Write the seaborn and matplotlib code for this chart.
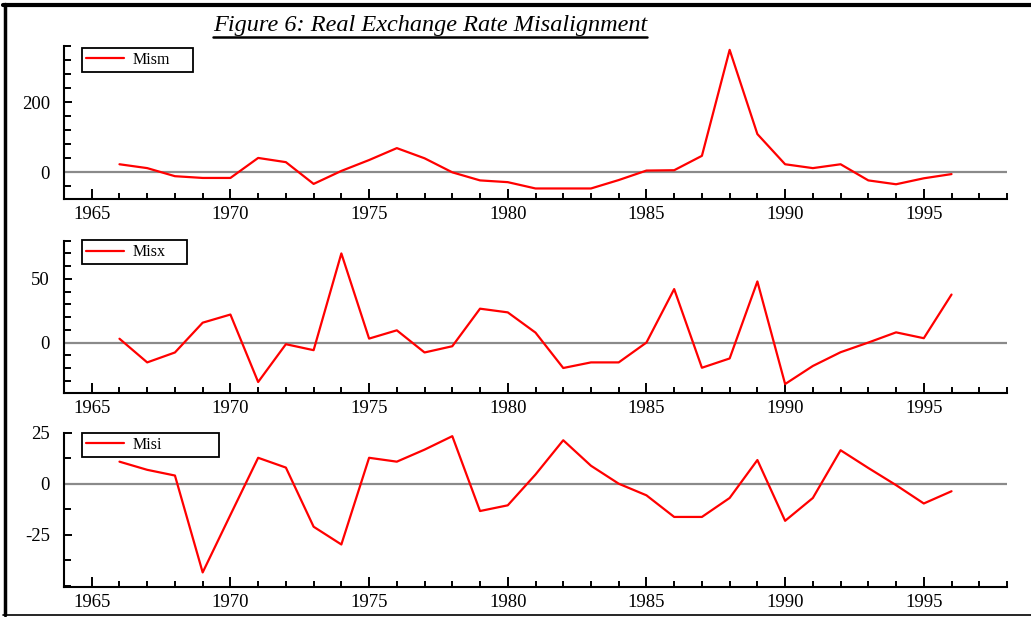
import numpy as np
import pandas as pd
import matplotlib
matplotlib.use("Agg")
import matplotlib.pyplot as plt
from matplotlib.lines import Line2D
from matplotlib.ticker import MultipleLocator, FixedLocator
import seaborn as sns

# Annual misalignment series, 1966-1996
years = list(range(1966, 1997))

mism = [23, 12, -11, -16, -16, 41, 29, -33, 4, 35, 69, 40, 0, -23, -28,
        -46, -46, -46, -22, 5, 6, 47, 349, 109, 23, 12, 23, -23, -34, -17, -5]

misx = [3, -15.6, -7.8, 15.6, 22, -31, -1.3, -6, 70, 3.1, 9.6, -7.8, -2.9,
        26.6, 23.7, 7.8, -20, -15.6, -15.6, 0, 42, -19.8, -12.5, 48, -32.6,
        -18.4, -7.6, 0, 8, 3.4, 37.7]

misi = [10.8, 6.8, 4, -43.5, -15.3, 12.7, 7.9, -21.1, -29.8, 12.7, 10.8,
        16.7, 23.3, -13.4, -10.6, 4.5, 21.3, 8.8, 0, -5.7, -16.3, -16.3, -7,
        11.6, -18.2, -7, 16.4, 7.7, -0.7, -9.7, -3.7]

series_names = ["Mism", "Misx", "Misi"]
year_ticks = [1965, 1970, 1975, 1980, 1985, 1990, 1995]

df = pd.DataFrame({"year": years, "Mism": mism, "Misx": misx, "Misi": misi})

sns.set_theme(style="ticks")
plt.rcParams["font.family"] = ["Liberation Serif", "DejaVu Serif"]
plt.rcParams["axes.unicode_minus"] = False
plt.rcParams["text.color"] = "black"
plt.rcParams["xtick.labelcolor"] = "black"
plt.rcParams["ytick.labelcolor"] = "black"

W, H = 1031, 617
fig = plt.figure(figsize=(W / 100, H / 100), dpi=100)


def px_axes(left, top, right, bottom):
    return fig.add_axes([left / W, 1 - bottom / H, (right - left) / W, (bottom - top) / H])


panels = [
    dict(name="Mism", box=(64, 46, 1007, 199), ylim=(-76, 360), major=[0, 200],
         minor=40, leg=(0.019, 0.83, 0.118, 0.145)),
    dict(name="Misx", box=(64, 240.7, 1007, 392.7), ylim=(-39.4, 80), major=[0, 50],
         minor=10, leg=(0.019, 0.845, 0.111, 0.145)),
    dict(name="Misi", box=(64, 432.7, 1007, 586.7), ylim=(-50.5, 25), major=[-25, 0, 25],
         minor=12.5, leg=(0.019, 0.842, 0.145, 0.156)),
]

for p in panels:
    ax = px_axes(*p["box"])
    ax.axhline(0, color="#8a8a8a", lw=1.6, zorder=1)
    sns.lineplot(data=df, x="year", y=p["name"], ax=ax, color="#ff0000",
                 lw=1.6, label=p["name"], zorder=3)
    ax.set_xlim(1964, 1998)
    ax.set_ylim(*p["ylim"])
    ax.set_xlabel("")
    ax.set_ylabel("")
    ax.xaxis.set_major_locator(FixedLocator(year_ticks))
    ax.xaxis.set_minor_locator(MultipleLocator(1))
    ax.yaxis.set_major_locator(FixedLocator(p["major"]))
    ax.yaxis.set_minor_locator(MultipleLocator(p["minor"]))
    ax.tick_params(axis="x", which="major", direction="in", length=7, width=1.4,
                   color="black", labelsize=13.5, labelcolor="black", pad=5)
    ax.tick_params(axis="x", which="minor", direction="in", length=4, width=1.4,
                   color="black")
    ax.tick_params(axis="y", which="major", direction="in", length=6, width=1.4,
                   color="black", labelsize=13.5, labelcolor="black", pad=10)
    ax.tick_params(axis="y", which="minor", direction="in", length=5, width=1.4,
                   color="black")
    for side in ("top", "right"):
        ax.spines[side].set_visible(False)
    for side in ("left", "bottom"):
        ax.spines[side].set_color("black")
        ax.spines[side].set_linewidth(1.5)
    ax.set_facecolor("white")
    leg = ax.legend(loc="lower left", bbox_to_anchor=p["leg"], mode="expand",
                    frameon=True, fancybox=False, fontsize=11.5, handlelength=2.4,
                    handletextpad=0.5, borderaxespad=0, borderpad=0.25,
                    labelcolor="black")
    leg.get_frame().set_edgecolor("black")
    leg.get_frame().set_linewidth(1.3)
    leg.get_frame().set_facecolor("white")
    leg.get_frame().set_alpha(1)
    for line in leg.get_lines():
        line.set_linewidth(1.6)

# Title with underline
title = fig.text(430 / W, 1 - 31 / H, "Figure 6: Real Exchange Rate Misalignment",
                 ha="center", va="baseline", fontsize=17.5, fontstyle="italic",
                 color="black", family=["Liberation Serif", "DejaVu Serif"])
fig.canvas.draw()
bb = title.get_window_extent(renderer=fig.canvas.get_renderer())
uy = 1 - 36.5 / H
fig.add_artist(Line2D([bb.x0 / W, bb.x1 / W], [uy, uy], color="black", lw=1.8,
                      transform=fig.transFigure))

# Frame lines round the page
fig.add_artist(Line2D([3 / W, 1], [1 - 5 / H, 1 - 5 / H], color="black", lw=3,
                      transform=fig.transFigure))
fig.add_artist(Line2D([4.5 / W, 4.5 / W], [1 - 4 / H, 1 - 615 / H], color="black",
                      lw=2.5, transform=fig.transFigure))
fig.add_artist(Line2D([3 / W, 1], [1 - 614.5 / H, 1 - 614.5 / H], color="black",
                      lw=1.2, transform=fig.transFigure))

fig.savefig("out.png", dpi=100, facecolor="white")
